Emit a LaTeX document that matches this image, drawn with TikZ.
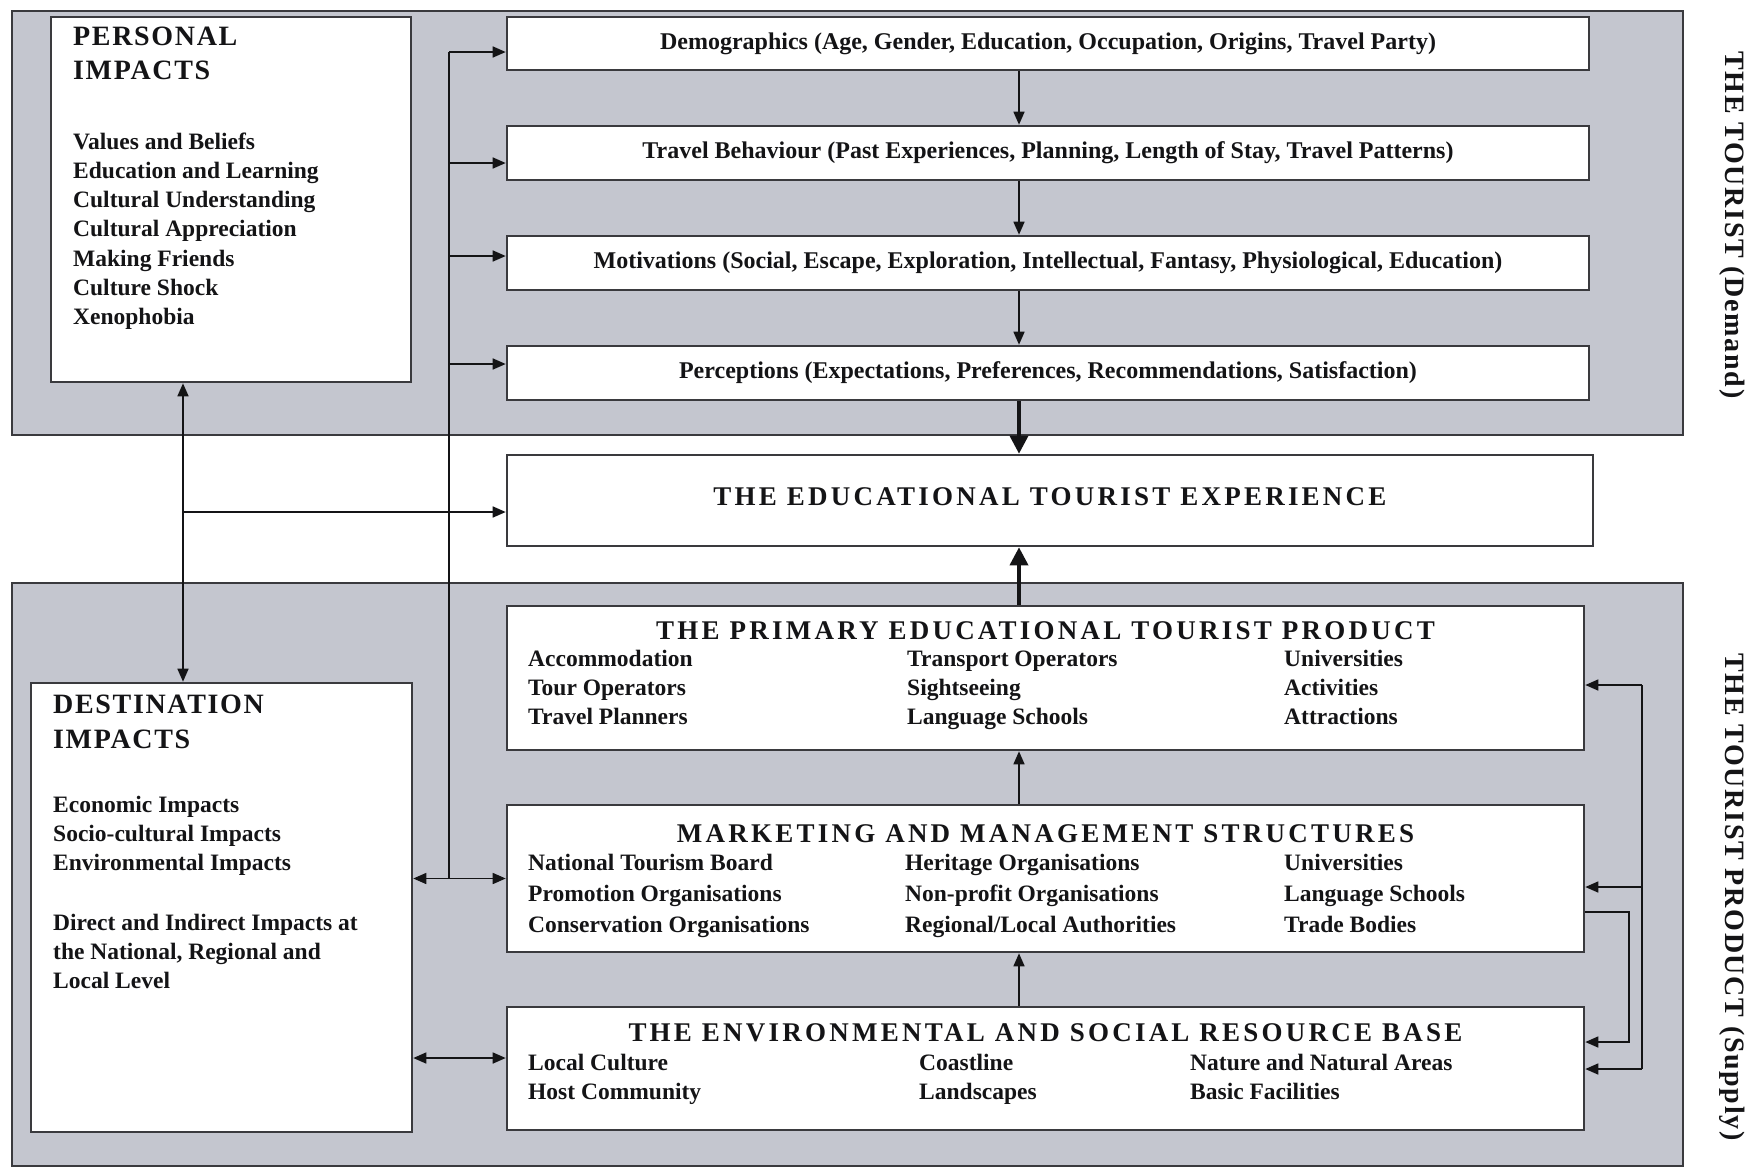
\documentclass[tikz,border=0pt]{standalone}
\usepackage{fontspec}
\setmainfont{Liberation Serif}
\usetikzlibrary{arrows.meta}
\definecolor{panel}{RGB}{196,198,207}
\definecolor{edge}{RGB}{58,58,62}
\definecolor{ink}{RGB}{20,20,22}
\tikzset{
  panelbox/.style={draw=edge, line width=2pt, fill=panel, inner sep=0pt, rectangle},
  whitebox/.style={draw=edge, line width=2.6pt, fill=white, inner sep=0pt, rectangle, text=ink},
  item/.style={font=\fontsize{23.5}{27}\selectfont\bfseries, anchor=mid west, inner sep=0pt, text=ink},
  hdr/.style={font=\fontsize{24}{28}\selectfont\bfseries},
  ttl/.style={font=\fontsize{27}{30}\selectfont\bfseries\addfontfeature{LetterSpace=12}, inner sep=0pt, text=ink},
  lttl/.style={font=\fontsize{28}{34}\selectfont\bfseries\addfontfeature{LetterSpace=6}, inner sep=0pt, text=ink, anchor=mid west, align=left},
  side/.style={font=\fontsize{28}{30}\selectfont\bfseries\addfontfeature{LetterSpace=6}, rotate=-90, inner sep=0pt, text=ink},
  conn/.style={draw=ink, line width=1.6pt},
  arr/.style={conn, -{Triangle[length=13pt,width=11pt]}},
  darr/.style={conn, {Triangle[length=13pt,width=11pt]}-{Triangle[length=13pt,width=11pt]}},
  bigarr/.style={draw=ink, line width=3.6pt, -{Triangle[length=18pt,width=18pt]}},
}
\begin{document}
\begin{tikzpicture}[x=1pt,y=-1pt]
\useasboundingbox[fill=white] (0,0) rectangle (1761,1168);

% panels
\node[panelbox, minimum width=1671pt, minimum height=424pt] (demand) at (847.5,223) {};
\node[panelbox, minimum width=1671pt, minimum height=583pt] (supply) at (847.5,874.5) {};

% side labels
\node[side] (demandlbl) at (1732,225) {THE TOURIST (Demand)};
\node[side] (supplylbl) at (1732,897) {THE TOURIST PRODUCT (Supply)};

% personal impacts
\node[whitebox, minimum width=360pt, minimum height=365pt] (personal) at (231,199.5) {};
\node[lttl] (pit1) at (73,43) {PERSONAL};
\node[lttl] (pit2) at (73,77) {IMPACTS};
\foreach \t [count=\i from 0] in {Values and Beliefs, Education and Learning, Cultural Understanding, Cultural Appreciation, Making Friends, Culture Shock, Xenophobia}
  \node[item] (pi\i) at (73,147+29.2*\i) {\t};

% tourist boxes
\node[whitebox, hdr, minimum width=1082pt, minimum height=53pt] (demo) at (1048,43.5)
  {Demographics (Age, Gender, Education, Occupation, Origins, Travel Party)};
\node[whitebox, hdr, minimum width=1082pt, minimum height=54pt] (travel) at (1048,153)
  {Travel Behaviour (Past Experiences, Planning, Length of Stay, Travel Patterns)};
\node[whitebox, hdr, minimum width=1082pt, minimum height=54pt] (motiv) at (1048,263)
  {Motivations (Social, Escape, Exploration, Intellectual, Fantasy, Physiological, Education)};
\node[whitebox, hdr, minimum width=1082pt, minimum height=54pt] (percep) at (1048,373)
  {Perceptions (Expectations, Preferences, Recommendations, Satisfaction)};

% experience
\node[whitebox, minimum width=1086pt, minimum height=91pt] (exp) at (1050,500.5) {};
\node[ttl] (expt) at (1050,497) {THE EDUCATIONAL TOURIST EXPERIENCE};

% primary product
\node[whitebox, minimum width=1077pt, minimum height=144pt] (primary) at (1045.5,678) {};
\node[ttl] (primt) at (1045.5,631) {THE PRIMARY EDUCATIONAL TOURIST PRODUCT};
\foreach \t [count=\i from 0] in {Accommodation, Tour Operators, Travel Planners}
  \node[item] (pa\i) at (528,664+29*\i) {\t};
\foreach \t [count=\i from 0] in {Transport Operators, Sightseeing, Language Schools}
  \node[item] (pb\i) at (907,664+29*\i) {\t};
\foreach \t [count=\i from 0] in {Universities, Activities, Attractions}
  \node[item] (pc\i) at (1284,664+29*\i) {\t};

% marketing and management
\node[whitebox, minimum width=1077pt, minimum height=147pt] (mms) at (1045.5,878.5) {};
\node[ttl] (mmst) at (1045.5,834) {MARKETING AND MANAGEMENT STRUCTURES};
\foreach \t [count=\i from 0] in {National Tourism Board, Promotion Organisations, Conservation Organisations}
  \node[item] (ma\i) at (528,868+31*\i) {\t};
\foreach \t [count=\i from 0] in {Heritage Organisations, Non-profit Organisations, Regional/Local Authorities}
  \node[item] (mb\i) at (905,868+31*\i) {\t};
\foreach \t [count=\i from 0] in {Universities, Language Schools, Trade Bodies}
  \node[item] (mc\i) at (1284,868+31*\i) {\t};

% environmental and social resource base
\node[whitebox, minimum width=1077pt, minimum height=123pt] (env) at (1045.5,1068.5) {};
\node[ttl] (envt) at (1045.5,1033) {THE ENVIRONMENTAL AND SOCIAL RESOURCE BASE};
\foreach \t [count=\i from 0] in {Local Culture, Host Community}
  \node[item] (ea\i) at (528,1068+29*\i) {\t};
\foreach \t [count=\i from 0] in {Coastline, Landscapes}
  \node[item] (eb\i) at (919,1068+29*\i) {\t};
\foreach \t [count=\i from 0] in {Nature and Natural Areas, Basic Facilities}
  \node[item] (ec\i) at (1190,1068+29*\i) {\t};

% destination impacts
\node[whitebox, minimum width=381pt, minimum height=449pt] (dest) at (221.5,907.5) {};
\node[lttl] (dit1) at (53,711) {DESTINATION};
\node[lttl] (dit2) at (53,746) {IMPACTS};
\foreach \t [count=\i from 0] in {Economic Impacts, Socio-cultural Impacts, Environmental Impacts}
  \node[item] (da\i) at (53,810+29*\i) {\t};
\foreach \t [count=\i from 0] in {Direct and Indirect Impacts at, {the National, Regional and}, Local Level}
  \node[item] (db\i) at (53,928+29*\i) {\t};

% ---- connectors ----
\coordinate (ax) at (1019,0);
\draw[arr] (demo.south -| ax) -- (travel.north -| ax);
\draw[arr] (travel.south -| ax) -- (motiv.north -| ax);
\draw[arr] (motiv.south -| ax) -- (percep.north -| ax);
\draw[bigarr] (percep.south -| ax) -- (exp.north -| ax);
\draw[bigarr] (primary.north -| ax) -- (exp.south -| ax);
\draw[arr] (mms.north -| ax) -- (primary.south -| ax);
\draw[arr] (env.north -| ax) -- (mms.south -| ax);

% trunk from destination/MMS link up to the tourist boxes
\coordinate (tr) at (449,0);
\coordinate (din) at ([yshift=-8.5pt]demo.west);
\coordinate (tin) at ([yshift=-10pt]travel.west);
\coordinate (min) at ([yshift=7pt]motiv.west);
\coordinate (pin) at ([yshift=9pt]percep.west);
\draw[conn] (tr |- mms.west) -- (tr |- din);
\draw[arr] (tr |- din) -- (din);
\draw[arr] (tr |- tin) -- (tin);
\draw[arr] (tr |- min) -- (min);
\draw[arr] (tr |- pin) -- (pin);

% destination links
\draw[darr] (dest.east |- mms.west) -- (mms.west);
\coordinate (envin) at ([yshift=10.5pt]env.west);
\draw[darr] (dest.east |- envin) -- (envin);

% personal <-> destination, branch to experience
\coordinate (pd) at (183,0);
\draw[darr] (personal.south -| pd) -- (dest.north -| pd);
\coordinate (expin) at ([yshift=-11.5pt]exp.west);
\draw[arr] (pd |- expin) -- (expin);

% right feedback loops
\coordinate (lx) at (1642,0);
\coordinate (rp) at ([yshift=-7pt]primary.east);
\coordinate (rm) at ([yshift=-8.5pt]mms.east);
\coordinate (re) at ([yshift=-0.5pt]env.east);
\draw[conn] (lx |- rp) -- (lx |- re);
\draw[arr] (lx |- rp) -- (rp);
\draw[arr] (lx |- rm) -- (rm);
\draw[arr] (lx |- re) -- (re);
\coordinate (ix) at (1629,0);
\coordinate (mout) at ([yshift=-33.5pt]mms.east);
\coordinate (re2) at ([yshift=26.5pt]env.east);
\draw[arr] (mout) -| (ix |- re2) -- (re2);
\end{tikzpicture}
\end{document}
